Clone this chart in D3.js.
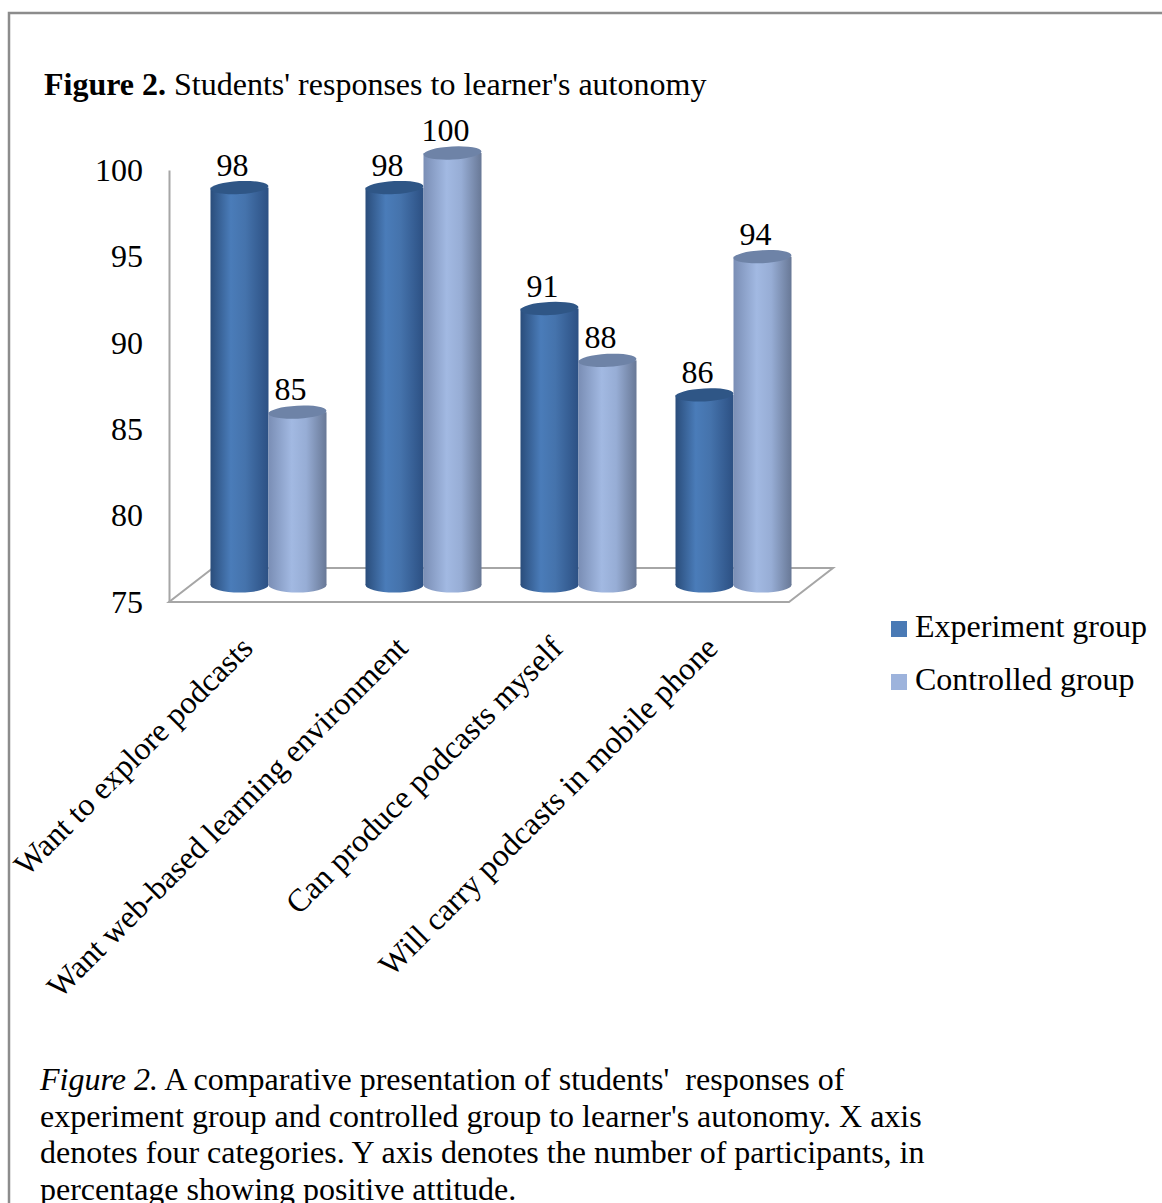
<!DOCTYPE html>
<html>
<head>
<meta charset="utf-8">
<script src="https://cdn.jsdelivr.net/npm/d3@7"></script>
<style>
  body { margin: 0; background: #fff; }
  text { font-family: "Liberation Serif", "Times New Roman", serif; fill: #000; }
</style>
</head>
<body>
<div id="chart"></div>
<script>
// data
var categories = ["Want to explore podcasts", "Want web-based learning environment",
                  "Can produce podcasts myself", "Will carry podcasts in mobile phone"];
var seriesNames = ["Experiment group", "Controlled group"];
var experiment = [98, 98, 91, 86];
var controlled = [85, 100, 88, 94];
var yTicks = [75, 80, 85, 90, 95, 100];
var captionLines = [
  "A comparative presentation of students'  responses of",
  "experiment group and controlled group to learner's autonomy. X axis",
  "denotes four categories. Y axis denotes the number of participants, in",
  "percentage showing positive attitude."
];

var W = 1162, H = 1203;
var svg = d3.select("#chart").append("svg")
    .attr("width", W)
    .attr("height", H);

// frame
svg.append("path")
    .attr("d", "M9," + H + "V13H" + W)
    .attr("fill", "none")
    .attr("stroke", "#8c8c8c")
    .attr("stroke-width", 2.5);

// title
var title = svg.append("text").attr("x", 44).attr("y", 95).style("font-size", "32px");
title.append("tspan").style("font-weight", "bold").text("Figure 2.");
title.append("tspan").text(" Students' responses to learner's autonomy");

// scales (front plane), bars sit half way back
var x = d3.scaleBand().domain(categories).range([169, 789]);
var xSub = d3.scaleBand().domain(seriesNames).range([0, x.bandwidth()])
    .paddingInner(0).paddingOuter(0.336);
var y = d3.scaleLinear().domain([75, 100]).range([602, 170]);
var depthX = 44, depthY = -34;
var midX = depthX / 2, midY = depthY / 2;

var color = d3.scaleOrdinal().domain(seriesNames).range(["#4a7ab5", "#9db3dc"]);

// gradients for the cylinders
var defs = svg.append("defs");
var grads = {
  "Experiment group": [["0%", "#2a4d7b"], ["35%", "#4a7cb9"], ["60%", "#4573ac"], ["100%", "#2c5083"]],
  "Controlled group": [["0%", "#7a8eb5"], ["40%", "#a2b9e2"], ["65%", "#97add5"], ["100%", "#687896"]]
};
var topColor = { "Experiment group": "#2f5686", "Controlled group": "#6e83a7" };
seriesNames.forEach(function(s, i) {
  var g = defs.append("linearGradient").attr("id", "grad" + i)
      .attr("x1", 0).attr("x2", 1).attr("y1", 0).attr("y2", 0);
  grads[s].forEach(function(st) {
    g.append("stop").attr("offset", st[0]).attr("stop-color", st[1]);
  });
});

// floor
var fy = y(75);
svg.append("polygon")
    .attr("points", [[169, fy], [789, fy], [789 + depthX, fy + depthY], [169 + depthX, fy + depthY]]
        .map(function(p) { return p.join(","); }).join(" "))
    .attr("fill", "#fff")
    .attr("stroke", "#a6a6a6")
    .attr("stroke-width", 2);

// y axis
var yAxis = svg.append("g")
    .attr("transform", "translate(169,0)")
    .call(d3.axisLeft(y).tickValues(yTicks).tickSize(0).tickPadding(26));
yAxis.select(".domain").attr("stroke", "#a6a6a6").attr("stroke-width", 2);
yAxis.selectAll("text")
    .style("font-size", "32px")
    .style("font-family", "'Liberation Serif', 'Times New Roman', serif");

// bars
var bars = [];
categories.forEach(function(c, i) {
  bars.push({ cat: c, series: seriesNames[0], value: experiment[i] });
  bars.push({ cat: c, series: seriesNames[1], value: controlled[i] });
});

var ry = 6.5;
var barG = svg.selectAll(".bar").data(bars).enter().append("g").attr("class", "bar");

barG.each(function(d) {
  var g = d3.select(this);
  var left = x(d.cat) + xSub(d.series) + midX;
  var w = xSub.bandwidth();
  var cx = left + w / 2;
  var top = y(d.value) + midY;
  var bottom = y(75) + midY;
  var gid = "url(#grad" + seriesNames.indexOf(d.series) + ")";

  g.append("ellipse")
      .attr("cx", cx).attr("cy", bottom)
      .attr("rx", w / 2).attr("ry", ry + 1)
      .attr("fill", gid);
  g.append("rect")
      .attr("x", left).attr("y", top)
      .attr("width", w).attr("height", bottom - top)
      .attr("fill", gid);
  g.append("ellipse")
      .attr("cx", cx).attr("cy", top)
      .attr("rx", w / 2).attr("ry", ry)
      .attr("fill", topColor[d.series])
      .attr("transform", "rotate(-3," + cx + "," + top + ")");
  g.append("text")
      .attr("x", cx - 7)
      .attr("y", top - 12)
      .attr("text-anchor", "middle")
      .style("font-size", "32px")
      .text(d.value);
});

// category labels
svg.selectAll(".cat").data(categories).enter().append("text")
    .attr("class", "cat")
    .attr("text-anchor", "end")
    .attr("transform", function(d) {
      return "translate(" + (x(d) + x.bandwidth() / 2 + 8) + ",650) rotate(-45)";
    })
    .style("font-size", "32px")
    .text(function(d) { return d; });

// legend
var legend = svg.selectAll(".legend").data(seriesNames).enter().append("g")
    .attr("class", "legend")
    .attr("transform", function(d, i) { return "translate(891," + (637 + i * 53) + ")"; });
legend.append("rect")
    .attr("y", -16).attr("width", 16).attr("height", 16)
    .attr("fill", color);
legend.append("text")
    .attr("x", 24)
    .style("font-size", "32px")
    .text(function(d) { return d; });

// caption
var cap = svg.append("g").attr("transform", "translate(40,0)");
captionLines.forEach(function(line, i) {
  var t = cap.append("text").attr("y", 1090 + i * 36.5)
      .style("font-size", "32px").style("white-space", "pre");
  if (i === 0) {
    t.append("tspan").style("font-style", "italic").text("Figure 2.");
    t.append("tspan").text(" " + line);
  } else {
    t.text(line);
  }
});
</script>
</body>
</html>
